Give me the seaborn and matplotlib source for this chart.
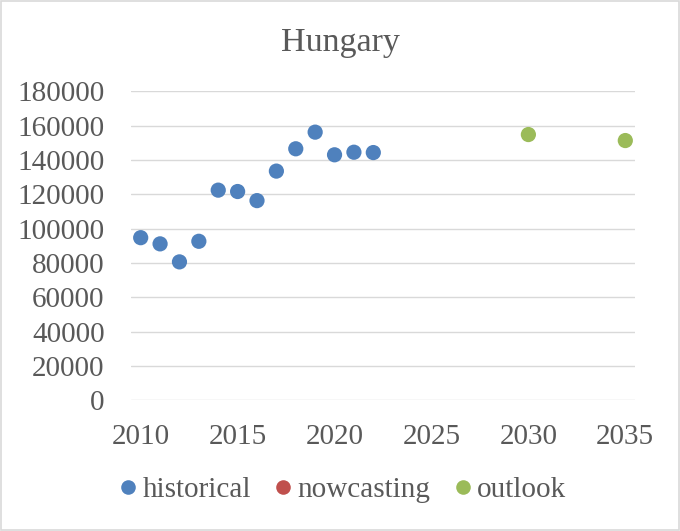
import matplotlib
matplotlib.use("Agg")
import matplotlib.pyplot as plt
from matplotlib.lines import Line2D
from matplotlib.patches import Rectangle
import seaborn as sns
import pandas as pd

# ---- data ----
hist_years = [2010, 2011, 2012, 2013, 2014, 2015, 2016, 2017, 2018, 2019, 2020, 2021, 2022]
hist_values = [94700, 91100, 80600, 92600, 122400, 121600, 116300, 133500, 146500, 156200, 143000, 144500, 144300]
now_years = []
now_values = []
out_years = [2030, 2035]
out_values = [154800, 151300]

series_names = ["historical", "nowcasting", "outlook"]
series_colors = {"historical": "#4F81BD", "nowcasting": "#C0504D", "outlook": "#9BBB59"}
x_ticks = [2010, 2015, 2020, 2025, 2030, 2035]
y_ticks = [0, 20000, 40000, 60000, 80000, 100000, 120000, 140000, 160000, 180000]
title = "Hungary"

df = pd.concat([
    pd.DataFrame({"year": hist_years, "value": hist_values, "series": "historical"}),
    pd.DataFrame({"year": now_years, "value": now_values, "series": "nowcasting"}),
    pd.DataFrame({"year": out_years, "value": out_values, "series": "outlook"}),
], ignore_index=True)
df["year"] = df["year"].astype(float)
df["value"] = df["value"].astype(float)

sns.set_style("white")
plt.rcParams["font.family"] = ["Liberation Serif", "DejaVu Serif"]
txt = "#595959"

fig = plt.figure(figsize=(6.8, 5.31), dpi=100)
fig.patch.set_facecolor("white")
fig.add_artist(Rectangle((0.0015, 0.002), 0.997, 0.996, transform=fig.transFigure,
                         fill=False, edgecolor="#D9D9D9", linewidth=1.2))

ax = fig.add_axes([131 / 680, 1 - 400.2 / 531, 504 / 680, 308.9 / 531])
sns.scatterplot(data=df, x="year", y="value", hue="series", hue_order=series_names,
                palette=series_colors, s=120, edgecolor="none", linewidth=0,
                legend=False, ax=ax, zorder=3)

ax.set_xlim(2009.5, 2035.5)
ax.set_ylim(0, 180000)
ax.set_xticks(x_ticks)
ax.set_yticks(y_ticks)
ax.set_xticklabels([str(v) for v in x_ticks])
ax.set_yticklabels([str(v) for v in y_ticks])
ax.set_xlabel("")
ax.set_ylabel("")
ax.grid(axis="y", color="#D9D9D9", linewidth=1.0)
ax.grid(axis="x", visible=False)
ax.set_axisbelow(True)
for sp in ax.spines.values():
    sp.set_visible(False)
ax.tick_params(axis="both", length=0, labelsize=21, labelcolor=txt)
ax.tick_params(axis="y", pad=19)
ax.tick_params(axis="x", pad=17)

fig.text(0.5, 1 - 43 / 531, title, ha="center", va="center", fontsize=24.5, color=txt)

handles = [Line2D([0], [0], marker="o", linestyle="none", markersize=10.5,
                  markerfacecolor=series_colors[n], markeredgecolor="none") for n in series_names]
leg = fig.legend(handles, series_names, loc="center", bbox_to_anchor=(0.5, 1 - 490 / 531),
                 ncol=3, frameon=False, fontsize=21, handletextpad=0.0,
                 columnspacing=0.6, handlelength=1.0, borderaxespad=0)
for t in leg.get_texts():
    t.set_color(txt)

fig.savefig("out.png", dpi=100)
